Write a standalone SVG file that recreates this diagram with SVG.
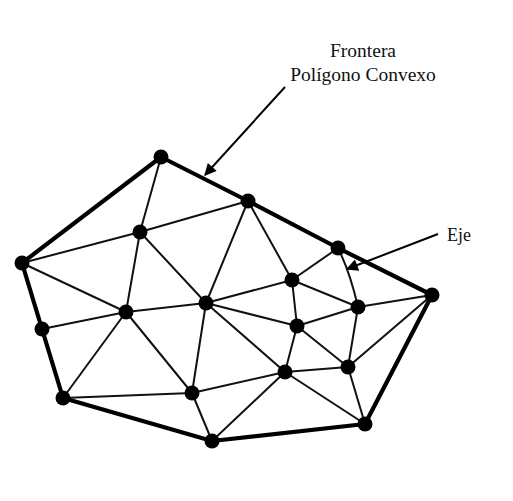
<svg xmlns="http://www.w3.org/2000/svg" width="513" height="501" viewBox="0 0 513 501">
<defs>
<style>
.hull{fill:none;stroke:#000;stroke-width:4.2;stroke-linejoin:round}
.edge{stroke:#111;stroke-width:2;fill:none;stroke-linecap:round}
.node{fill:#000}
.lbl{font-family:"Liberation Serif","Times New Roman",serif;font-size:19.5px;fill:#111}
.arrow{stroke:#000;stroke-width:2;fill:none}
</style>
<marker id="ah" viewBox="0 0 10 10" refX="9" refY="5" markerWidth="7" markerHeight="6" orient="auto" markerUnits="strokeWidth">
<path d="M0,0 L10,5 L0,10 Z" fill="#000"/>
</marker>
</defs>
<rect width="513" height="501" fill="#fff"/>
<g id="connectors">
<polygon class="hull" points="161,157 248,201 338,248 432,295 365,424 212,441 63,398 42,329 22,263"/>
<line class="edge" x1="161" y1="157" x2="140" y2="232"/>
<line class="edge" x1="140" y1="232" x2="248" y2="201"/>
<line class="edge" x1="140" y1="232" x2="22" y2="263"/>
<line class="edge" x1="22" y1="263" x2="126" y2="312"/>
<line class="edge" x1="140" y1="232" x2="126" y2="312"/>
<line class="edge" x1="140" y1="232" x2="206" y2="303"/>
<line class="edge" x1="248" y1="201" x2="206" y2="303"/>
<line class="edge" x1="248" y1="201" x2="292" y2="280"/>
<line class="edge" x1="42" y1="329" x2="126" y2="312"/>
<line class="edge" x1="126" y1="312" x2="206" y2="303"/>
<line class="edge" x1="126" y1="312" x2="63" y2="398"/>
<line class="edge" x1="126" y1="312" x2="192" y2="393"/>
<line class="edge" x1="206" y1="303" x2="192" y2="393"/>
<line class="edge" x1="63" y1="398" x2="192" y2="393"/>
<line class="edge" x1="192" y1="393" x2="212" y2="441"/>
<line class="edge" x1="212" y1="441" x2="285" y2="372"/>
<line class="edge" x1="192" y1="393" x2="285" y2="372"/>
<line class="edge" x1="206" y1="303" x2="285" y2="372"/>
<line class="edge" x1="206" y1="303" x2="297" y2="326"/>
<line class="edge" x1="206" y1="303" x2="292" y2="280"/>
<line class="edge" x1="292" y1="280" x2="297" y2="326"/>
<line class="edge" x1="292" y1="280" x2="338" y2="248"/>
<line class="edge" x1="292" y1="280" x2="358" y2="307"/>
<path class="edge" d="M338,248 Q350,272 358,307"/>
<line class="edge" x1="297" y1="326" x2="358" y2="307"/>
<line class="edge" x1="297" y1="326" x2="285" y2="372"/>
<line class="edge" x1="297" y1="326" x2="348" y2="367"/>
<line class="edge" x1="358" y1="307" x2="348" y2="367"/>
<line class="edge" x1="358" y1="307" x2="432" y2="295"/>
<line class="edge" x1="348" y1="367" x2="432" y2="295"/>
<line class="edge" x1="285" y1="372" x2="348" y2="367"/>
<line class="edge" x1="285" y1="372" x2="365" y2="424"/>
<line class="edge" x1="348" y1="367" x2="365" y2="424"/>
<line class="arrow" x1="285" y1="87" x2="205" y2="175" marker-end="url(#ah)"/>
<line class="arrow" x1="438" y1="234" x2="347" y2="269" marker-end="url(#ah)"/>
</g>
<g id="nodes">
<circle id="nA" class="node" cx="161" cy="157" r="7.5"/>
<circle id="nB" class="node" cx="248" cy="201" r="7.5"/>
<circle id="nC" class="node" cx="140" cy="232" r="7.5"/>
<circle id="nD" class="node" cx="22" cy="263" r="7.5"/>
<circle id="nE" class="node" cx="126" cy="312" r="7.5"/>
<circle id="nF" class="node" cx="206" cy="303" r="7.5"/>
<circle id="nG" class="node" cx="42" cy="329" r="7.5"/>
<circle id="nH" class="node" cx="338" cy="248" r="7.5"/>
<circle id="nI" class="node" cx="292" cy="280" r="7.5"/>
<circle id="nJ" class="node" cx="432" cy="295" r="7.5"/>
<circle id="nK" class="node" cx="358" cy="307" r="7.5"/>
<circle id="nL" class="node" cx="297" cy="326" r="7.5"/>
<circle id="nM" class="node" cx="63" cy="398" r="7.5"/>
<circle id="nN" class="node" cx="192" cy="393" r="7.5"/>
<circle id="nO" class="node" cx="212" cy="441" r="7.5"/>
<circle id="nP" class="node" cx="285" cy="372" r="7.5"/>
<circle id="nQ" class="node" cx="348" cy="367" r="7.5"/>
<circle id="nR" class="node" cx="365" cy="424" r="7.5"/>
</g>
<g id="labels">
<text class="lbl" x="363" y="57" text-anchor="middle">Frontera</text>
<text class="lbl" x="363" y="81" text-anchor="middle">Polígono Convexo</text>
<text class="lbl" x="447" y="241" style="font-size:18px">Eje</text>
</g>
</svg>
